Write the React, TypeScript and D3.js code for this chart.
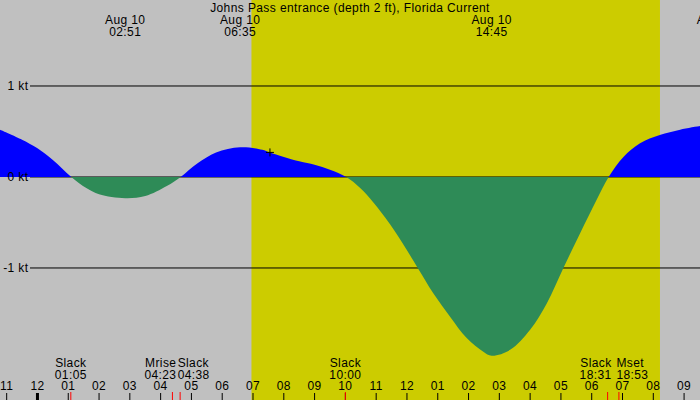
import * as d3 from 'd3';

// Hours relative to midnight Aug 10 (negative = Aug 9)
const curveHours = [
  -1.22, -0.5, 0, 0.5, 1.1, 1.6, 2.0, 2.85, 3.5, 4.2, 4.65, 5.2, 5.8, 6.58, 7.3, 7.55, 8.5, 9.0, 9.5,
  10.03, 10.48, 10.91, 11.45, 11.99, 12.35, 12.86, 13.4, 13.94, 14.48, 14.75, 15.35, 16.0, 16.54,
  17.08, 17.62, 18.16, 18.55, 19.03, 19.57, 20.21, 20.87, 21.52,
];
const curveKnots = [
  0.52, 0.41, 0.315, 0.187, 0, -0.125, -0.19, -0.234, -0.21, -0.1, 0, 0.15, 0.27, 0.326, 0.3, 0.27,
  0.172, 0.135, 0.08, 0, -0.12, -0.28, -0.52, -0.8, -1.0, -1.28, -1.535, -1.77, -1.92, -1.964, -1.9,
  -1.68, -1.39, -1.0, -0.62, -0.25, 0, 0.22, 0.37, 0.46, 0.52, 0.56,
];

const levels = [1, 0, -1];
const tickHours = d3.range(-1, 22);

const topEvents = [
  { day: 'Aug 10', time: '02:51' },
  { day: 'Aug 10', time: '06:35' },
  { day: 'Aug 10', time: '14:45' },
  { day: 'Aug 10', time: '22:04' },
];

const bottomEvents = [
  { name: 'Slack', time: '01:05', anchor: 'middle' },
  { name: 'Mrise', time: '04:23', anchor: 'end' },
  { name: 'Slack', time: '04:38', anchor: 'start' },
  { name: 'Slack', time: '10:00', anchor: 'middle' },
  { name: 'Slack', time: '18:31', anchor: 'end' },
  { name: 'Mset', time: '18:53', anchor: 'start' },
];

const sunrise = '06:57';
const sunset = '20:13';
const nowMark = { time: '07:33', value: 0.27 };

const title = 'Johns Pass entrance (depth 2 ft), Florida Current';

const W = 700;
const H = 400;
const FONT = '"Liberation Sans", Arial, sans-serif';

const toHours = (s: string) => {
  const [h, m] = s.split(':').map(Number);
  return h + m / 60;
};

const hourLabel = (h: number) => {
  const k = ((h % 12) + 12) % 12;
  return String(k === 0 ? 12 : k).padStart(2, '0');
};

export default function App() {
  const x = d3.scaleLinear().domain([-1.2167, 21.5167]).range([0, W]);
  const y = d3.scaleLinear().domain([1.945, -2.451]).range([0, H]);

  const pts = curveHours.map((h, i) => [h, curveKnots[i]] as [number, number]);
  const area = d3
    .area<[number, number]>()
    .x((d) => x(d[0]))
    .y0(y(0))
    .y1((d) => y(d[1]))
    .curve(d3.curveCatmullRom.alpha(0.5));
  const d = area(pts) || '';

  const y0 = y(0);
  const nx = x(toHours(nowMark.time));
  const ny = y(nowMark.value);

  return (
    <div style={{ position: 'absolute', left: 0, top: 0 }}>
      <svg
        width={W}
        height={H}
        style={{ display: 'block', letterSpacing: '0.4px' }}
        fontFamily={FONT}
        fontSize={12}
      >
        <defs>
          <clipPath id="above">
            <rect x={0} y={0} width={W} height={y0} />
          </clipPath>
          <clipPath id="below">
            <rect x={0} y={y0} width={W} height={H - y0} />
          </clipPath>
        </defs>

        <rect x={0} y={0} width={W} height={H} fill="#c0c0c0" />
        <rect
          x={x(toHours(sunrise))}
          y={0}
          width={x(toHours(sunset)) - x(toHours(sunrise))}
          height={H}
          fill="#cccc00"
        />

        {levels.map((v) => (
          <line key={v} x1={30} x2={W} y1={y(v)} y2={y(v)} stroke="#000" strokeWidth={1} />
        ))}

        <path d={d} fill="#0000ff" clipPath="url(#above)" />
        <path d={d} fill="#2e8b57" clipPath="url(#below)" />

        {levels.map((v) => (
          <text key={v} x={28.5} y={y(v)} dy="0.35em" textAnchor="end" fill="#000">
            {`${v} kt`}
          </text>
        ))}

        <g stroke="#000" strokeWidth={1}>
          <line x1={nx - 4} x2={nx + 4} y1={ny} y2={ny} />
          <line x1={nx} x2={nx} y1={ny - 4} y2={ny + 4} />
        </g>

        <text x={W / 2} y={11.5} textAnchor="middle" fill="#000">
          {title}
        </text>

        {topEvents.map((e) => {
          const ex = x(toHours(e.time));
          return (
            <g key={e.time} textAnchor="middle" fill="#000">
              <text x={ex} y={23.5}>{e.day}</text>
              <text x={ex} y={35.5}>{e.time}</text>
            </g>
          );
        })}

        {bottomEvents.map((e) => {
          const ex = x(toHours(e.time));
          const tx = e.anchor === 'end' ? ex + 4 : e.anchor === 'start' ? ex - 2.5 : ex;
          return (
            <g key={e.name + e.time} textAnchor={e.anchor} fill="#000">
              <text x={tx} y={366.5}>{e.name}</text>
              <text x={tx} y={378.5}>{e.time}</text>
            </g>
          );
        })}

        {tickHours.map((h) => (
          <g key={h}>
            <line
              x1={x(h)}
              x2={x(h)}
              y1={393}
              y2={H}
              stroke="#000"
              strokeWidth={h === 0 ? 3 : 1}
            />
            <text x={x(h)} y={390} textAnchor="middle" fill="#000">
              {hourLabel(h)}
            </text>
          </g>
        ))}

        {bottomEvents.map((e) => (
          <line
            key={'r' + e.time}
            x1={x(toHours(e.time))}
            x2={x(toHours(e.time))}
            y1={392}
            y2={H}
            stroke="#ff0000"
            strokeWidth={1}
          />
        ))}
      </svg>
    </div>
  );
}
